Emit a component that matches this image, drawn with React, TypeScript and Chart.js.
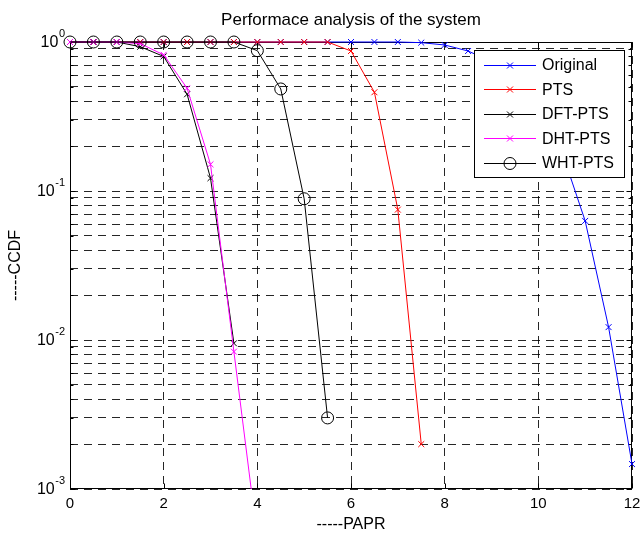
import React, { useEffect, useRef } from 'react';
import { Chart, registerables } from 'chart.js';

Chart.register(...registerables);

// ---------- data ----------
const PAPR = [0, 0.5, 1, 1.5, 2, 2.5, 3, 3.5, 4, 4.5, 5, 5.5, 6, 6.5, 7, 7.5, 8, 8.5, 9, 9.5, 10, 10.5, 11, 11.5, 12];
const ORIGINAL = [1, 1, 1, 1, 1, 1, 1, 1, 1, 1, 1, 1, 1, 1, 1, 0.99, 0.955, 0.87, 0.74, 0.575, 0.38, 0.185, 0.063, 0.0122, 0.00147];
const PTS = [1, 1, 1, 1, 1, 1, 1, 1, 1, 1, 1, 1, 0.87, 0.46, 0.075, 0.002, null, null, null, null, null, null, null, null, null];
const DFT_PTS = [1, 1, 1, 0.93, 0.8, 0.446, 0.122, 0.0095, null, null, null, null, null, null, null, null, null, null, null, null, null, null, null, null, null];
const DHT_PTS = [1, 1, 1, 0.975, 0.82, 0.489, 0.151, 0.00835, 0.00047, null, null, null, null, null, null, null, null, null, null, null, null, null, null, null, null];
const WHT_PTS = [1, 1, 1, 1, 1, 1, 1, 1, 0.875, 0.484, 0.0887, 0.003, null, null, null, null, null, null, null, null, null, null, null, null, null];

const SERIES_LABELS = ['Original', 'PTS', 'DFT-PTS', 'DHT-PTS', 'WHT-PTS'];
const X_TICKS = [0, 2, 4, 6, 8, 10, 12];
const Y_MAJOR = [1, 0.1, 0.01, 0.001];
const Y_EXPONENTS = ['0', '-1', '-2', '-3'];
const Y_MINOR_MULT = [2, 3, 4, 5, 6, 7, 8, 9];

const TITLE = 'Performace analysis of the system';
const X_TITLE = '-----PAPR';
const Y_TITLE = '-----CCDF';

const FONT = "'Liberation Sans', Arial, Helvetica, sans-serif";

const COLORS = ['#0000ff', '#ff0000', '#000000', '#ff00ff', '#000000'];
const MARKERS = ['crossRot', 'crossRot', 'crossRot', 'crossRot', 'circle'];

const yGridValues: number[] = [];
Y_MAJOR.forEach((m) => {
  yGridValues.push(m);
  if (m < 1) Y_MINOR_MULT.forEach((k) => yGridValues.push(m * k));
});
yGridValues.sort((a, b) => a - b);

function drawMarker(ctx: CanvasRenderingContext2D, style: string, x: number, y: number, color: string) {
  ctx.save();
  ctx.strokeStyle = color;
  ctx.lineWidth = 1;
  ctx.beginPath();
  if (style === 'circle') {
    ctx.arc(x, y, 6, 0, Math.PI * 2);
  } else {
    const r = 3;
    ctx.moveTo(x - r, y - r);
    ctx.lineTo(x + r, y + r);
    ctx.moveTo(x - r, y + r);
    ctx.lineTo(x + r, y - r);
  }
  ctx.stroke();
  ctx.restore();
}

const matlabPlugin = {
  id: 'matlabAxes',
  beforeDatasetsDraw(chart: any) {
    const { ctx, chartArea: a, scales } = chart;
    const L = Math.round(a.left) + 0.5;
    const R = Math.round(a.right) - 0.5;
    const T = Math.round(a.top) + 0.5;
    const B = Math.round(a.bottom) - 0.5;
    ctx.save();
    ctx.strokeStyle = '#000';
    ctx.lineWidth = 1;
    ctx.setLineDash([]);
    ctx.beginPath();
    // inner tick marks
    X_TICKS.forEach((v) => {
      const px = Math.round(scales.x.getPixelForValue(v)) + 0.5;
      ctx.moveTo(px, B);
      ctx.lineTo(px, B - 5);
      ctx.moveTo(px, T);
      ctx.lineTo(px, T + 5);
    });
    yGridValues.forEach((v) => {
      const py = Math.round(scales.y.getPixelForValue(v)) + 0.5;
      const len = Y_MAJOR.includes(v) ? 5 : 3;
      ctx.moveTo(L, py);
      ctx.lineTo(L + len, py);
      ctx.moveTo(R, py);
      ctx.lineTo(R - len, py);
    });
    ctx.stroke();
    ctx.strokeRect(L, T, R - L, B - T);
    ctx.restore();
  },
  afterDatasetsDraw(chart: any) {
    const { ctx } = chart;
    // legend box
    const bx = 474, by = 50, bw = 150, bh = 127;
    ctx.save();
    ctx.fillStyle = '#ffffff';
    ctx.fillRect(bx, by, bw, bh);
    ctx.strokeStyle = '#000';
    ctx.lineWidth = 1;
    ctx.setLineDash([]);
    ctx.strokeRect(bx + 0.5, by + 0.5, bw, bh);
    chart.data.datasets.forEach((ds: any, i: number) => {
      const y = 65 + i * 24.4;
      const yy = Math.round(y) + 0.5;
      ctx.strokeStyle = COLORS[i];
      ctx.beginPath();
      ctx.moveTo(484, yy);
      ctx.lineTo(536, yy);
      ctx.stroke();
      drawMarker(ctx, MARKERS[i], 510, yy, COLORS[i]);
      ctx.fillStyle = '#000';
      ctx.font = `16px ${FONT}`;
      ctx.textAlign = 'left';
      ctx.textBaseline = 'middle';
      ctx.fillText(ds.label, 542, y + 1);
    });
    ctx.restore();
  },
  afterDraw(chart: any) {
    const { ctx, scales } = chart;
    ctx.save();
    ctx.fillStyle = '#000';
    ctx.textBaseline = 'middle';
    Y_MAJOR.forEach((v, i) => {
      const py = scales.y.getPixelForValue(v);
      const exp = Y_EXPONENTS[i];
      ctx.font = `11px ${FONT}`;
      const ew = ctx.measureText(exp).width;
      ctx.font = `16px ${FONT}`;
      const bw = ctx.measureText('10').width;
      const right = 65;
      ctx.textAlign = 'left';
      ctx.fillText('10', right - ew - bw - 0.5, py + 1);
      ctx.font = `11px ${FONT}`;
      ctx.fillText(exp, right - ew, py - 8);
    });
    ctx.restore();
  },
};

export default function App() {
  const canvasRef = useRef<HTMLCanvasElement | null>(null);

  useEffect(() => {
    const canvas = canvasRef.current;
    if (!canvas) return;
    const seriesValues = [ORIGINAL, PTS, DFT_PTS, DHT_PTS, WHT_PTS];
    const datasets = seriesValues.map((vals, i) => ({
      label: SERIES_LABELS[i],
      data: PAPR.map((x, j) => ({ x, y: vals[j] })),
      borderColor: COLORS[i],
      backgroundColor: 'transparent',
      borderWidth: 1,
      pointStyle: MARKERS[i],
      pointRadius: MARKERS[i] === 'circle' ? 6 : 4.2,
      pointBorderWidth: 1,
      pointBorderColor: COLORS[i],
      pointBackgroundColor: 'transparent',
      tension: 0,
      spanGaps: false,
      order: 5 - i,
      clip: { left: 10, top: 10, right: 10, bottom: 0 },
    }));

    const chart = new Chart(canvas, {
      type: 'line',
      data: { datasets } as any,
      options: {
        responsive: false,
        animation: false,
        devicePixelRatio: 1,
        layout: { padding: { left: 0, right: 8, top: 0, bottom: 0 } },
        plugins: {
          legend: { display: false },
          tooltip: { enabled: false },
          title: {
            display: true,
            text: TITLE,
            color: '#000',
            fullSize: false,
            font: { size: 17, family: FONT, weight: 'normal' },
            padding: { top: 10, bottom: 11.6 },
          },
        },
        scales: {
          x: {
            type: 'linear',
            min: 0,
            max: 12,
            afterBuildTicks: (s: any) => {
              s.ticks = X_TICKS.map((v) => ({ value: v }));
            },
            afterFit: (s: any) => {
              s.height = 44;
              s.paddingLeft = 0;
              s.paddingRight = 0;
            },
            ticks: {
              color: '#000',
              font: { size: 15, family: FONT },
              padding: 6,
              maxRotation: 0,
              autoSkip: false,
            },
            grid: { color: 'rgba(0,0,0,0.85)', lineWidth: 1, drawTicks: false },
            border: { display: false, dash: [8, 6] },
            title: {
              display: true,
              text: X_TITLE,
              color: '#000',
              font: { size: 16, family: FONT, lineHeight: 1 },
              padding: { top: 0, bottom: 0 },
            },
          },
          y: {
            type: 'logarithmic',
            min: 0.001,
            max: 1,
            afterBuildTicks: (s: any) => {
              s.ticks = yGridValues.map((v) => ({ value: v }));
            },
            afterFit: (s: any) => {
              s.width = 70;
              s.paddingTop = 0;
              s.paddingBottom = 0;
            },
            ticks: { display: false },
            grid: { color: 'rgba(0,0,0,0.85)', lineWidth: 1, drawTicks: false },
            border: { display: false, dash: [8, 6] },
            title: {
              display: true,
              text: Y_TITLE,
              color: '#000',
              font: { size: 16, family: FONT },
              padding: { top: 6, bottom: 0 },
            },
          },
        },
      } as any,
      plugins: [matlabPlugin],
    });
    return () => chart.destroy();
  }, []);

  return (
    <div style={{ position: 'fixed', left: 0, top: 0, width: 640, height: 533, background: '#fff' }}>
      <canvas ref={canvasRef} width={640} height={533} />
    </div>
  );
}
